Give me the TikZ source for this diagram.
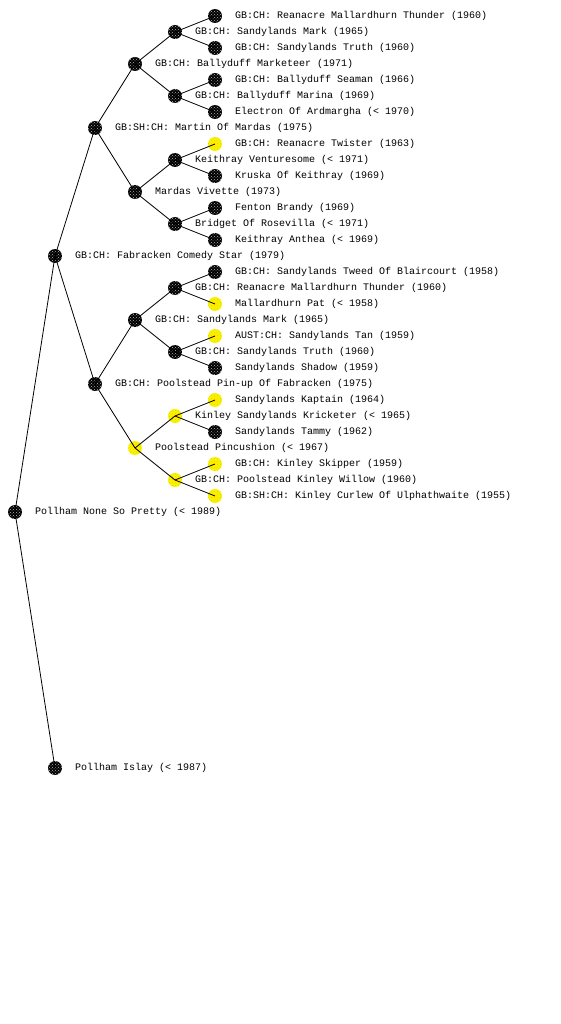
\documentclass[tikz,border=0pt]{standalone}
\usepackage{fontspec}
\setmonofont{Liberation Mono}
\usetikzlibrary{patterns}
\begin{document}
\begin{tikzpicture}[x=1pt,y=-1pt,
  dog/.style={circle,fill=black,minimum size=14pt,inner sep=0pt,
    postaction={pattern=crosshatch dots,pattern color=white!70!black}},
  ydog/.style={circle,fill=yellow,minimum size=14pt,inner sep=0pt,
    postaction={pattern=crosshatch dots,pattern color=yellow!85!black}},
  lab/.style={anchor=west,inner sep=0pt,font=\ttfamily\fontsize{10}{12}\selectfont},
  edge/.style={draw=black,line width=0.8pt}]
\useasboundingbox (0,0) rectangle (560,1024);
% level 0
\node[dog] (r) at (15,512) {};
\node[lab] (rl) at (35,512) {Pollham None So Pretty (< 1989)};
% level 1
\node[dog] (s) at (55,256) {};
\node[lab] (sl) at (75,256) {GB:CH: Fabracken Comedy Star (1979)};
\node[dog] (d) at (55,768) {};
\node[lab] (dl) at (75,768) {Pollham Islay (< 1987)};
% level 2
\node[dog] (ss) at (95,128) {};
\node[lab] (ssl) at (115,128) {GB:SH:CH: Martin Of Mardas (1975)};
\node[dog] (sd) at (95,384) {};
\node[lab] (sdl) at (115,384) {GB:CH: Poolstead Pin-up Of Fabracken (1975)};
% level 3
\node[dog] (sss) at (135,64) {};
\node[lab] (sssl) at (155,64) {GB:CH: Ballyduff Marketeer (1971)};
\node[dog] (ssd) at (135,192) {};
\node[lab] (ssdl) at (155,192) {Mardas Vivette (1973)};
\node[dog] (sds) at (135,320) {};
\node[lab] (sdsl) at (155,320) {GB:CH: Sandylands Mark (1965)};
\node[ydog] (sdd) at (135,448) {};
\node[lab] (sddl) at (155,448) {Poolstead Pincushion (< 1967)};
% level 4
\node[dog] (ssss) at (175,32) {};
\node[lab] (ssssl) at (195,32) {GB:CH: Sandylands Mark (1965)};
\node[dog] (sssd) at (175,96) {};
\node[lab] (sssdl) at (195,96) {GB:CH: Ballyduff Marina (1969)};
\node[dog] (ssds) at (175,160) {};
\node[lab] (ssdsl) at (195,160) {Keithray Venturesome (< 1971)};
\node[dog] (ssdd) at (175,224) {};
\node[lab] (ssddl) at (195,224) {Bridget Of Rosevilla (< 1971)};
\node[dog] (sdss) at (175,288) {};
\node[lab] (sdssl) at (195,288) {GB:CH: Reanacre Mallardhurn Thunder (1960)};
\node[dog] (sdsd) at (175,352) {};
\node[lab] (sdsdl) at (195,352) {GB:CH: Sandylands Truth (1960)};
\node[ydog] (sdds) at (175,416) {};
\node[lab] (sddsl) at (195,416) {Kinley Sandylands Kricketer (< 1965)};
\node[ydog] (sddd) at (175,480) {};
\node[lab] (sdddl) at (195,480) {GB:CH: Poolstead Kinley Willow (1960)};
% level 5
\node[dog] (l1) at (215,16) {};
\node[lab] (l1l) at (235,16) {GB:CH: Reanacre Mallardhurn Thunder (1960)};
\node[dog] (l2) at (215,48) {};
\node[lab] (l2l) at (235,48) {GB:CH: Sandylands Truth (1960)};
\node[dog] (l3) at (215,80) {};
\node[lab] (l3l) at (235,80) {GB:CH: Ballyduff Seaman (1966)};
\node[dog] (l4) at (215,112) {};
\node[lab] (l4l) at (235,112) {Electron Of Ardmargha (< 1970)};
\node[ydog] (l5) at (215,144) {};
\node[lab] (l5l) at (235,144) {GB:CH: Reanacre Twister (1963)};
\node[dog] (l6) at (215,176) {};
\node[lab] (l6l) at (235,176) {Kruska Of Keithray (1969)};
\node[dog] (l7) at (215,208) {};
\node[lab] (l7l) at (235,208) {Fenton Brandy (1969)};
\node[dog] (l8) at (215,240) {};
\node[lab] (l8l) at (235,240) {Keithray Anthea (< 1969)};
\node[dog] (l9) at (215,272) {};
\node[lab] (l9l) at (235,272) {GB:CH: Sandylands Tweed Of Blaircourt (1958)};
\node[ydog] (l10) at (215,304) {};
\node[lab] (l10l) at (235,304) {Mallardhurn Pat (< 1958)};
\node[ydog] (l11) at (215,336) {};
\node[lab] (l11l) at (235,336) {AUST:CH: Sandylands Tan (1959)};
\node[dog] (l12) at (215,368) {};
\node[lab] (l12l) at (235,368) {Sandylands Shadow (1959)};
\node[ydog] (l13) at (215,400) {};
\node[lab] (l13l) at (235,400) {Sandylands Kaptain (1964)};
\node[dog] (l14) at (215,432) {};
\node[lab] (l14l) at (235,432) {Sandylands Tammy (1962)};
\node[ydog] (l15) at (215,464) {};
\node[lab] (l15l) at (235,464) {GB:CH: Kinley Skipper (1959)};
\node[ydog] (l16) at (215,496) {};
\node[lab] (l16l) at (235,496) {GB:SH:CH: Kinley Curlew Of Ulphathwaite (1955)};
% connectors
\foreach \p/\c in {r/s,r/d,s/ss,s/sd,ss/sss,ss/ssd,sd/sds,sd/sdd,
  sss/ssss,sss/sssd,ssd/ssds,ssd/ssdd,sds/sdss,sds/sdsd,sdd/sdds,sdd/sddd,
  ssss/l1,ssss/l2,sssd/l3,sssd/l4,ssds/l5,ssds/l6,ssdd/l7,ssdd/l8,
  sdss/l9,sdss/l10,sdsd/l11,sdsd/l12,sdds/l13,sdds/l14,sddd/l15,sddd/l16}
  \draw[edge] (\p.center) -- (\c.center);
\end{tikzpicture}
\end{document}
